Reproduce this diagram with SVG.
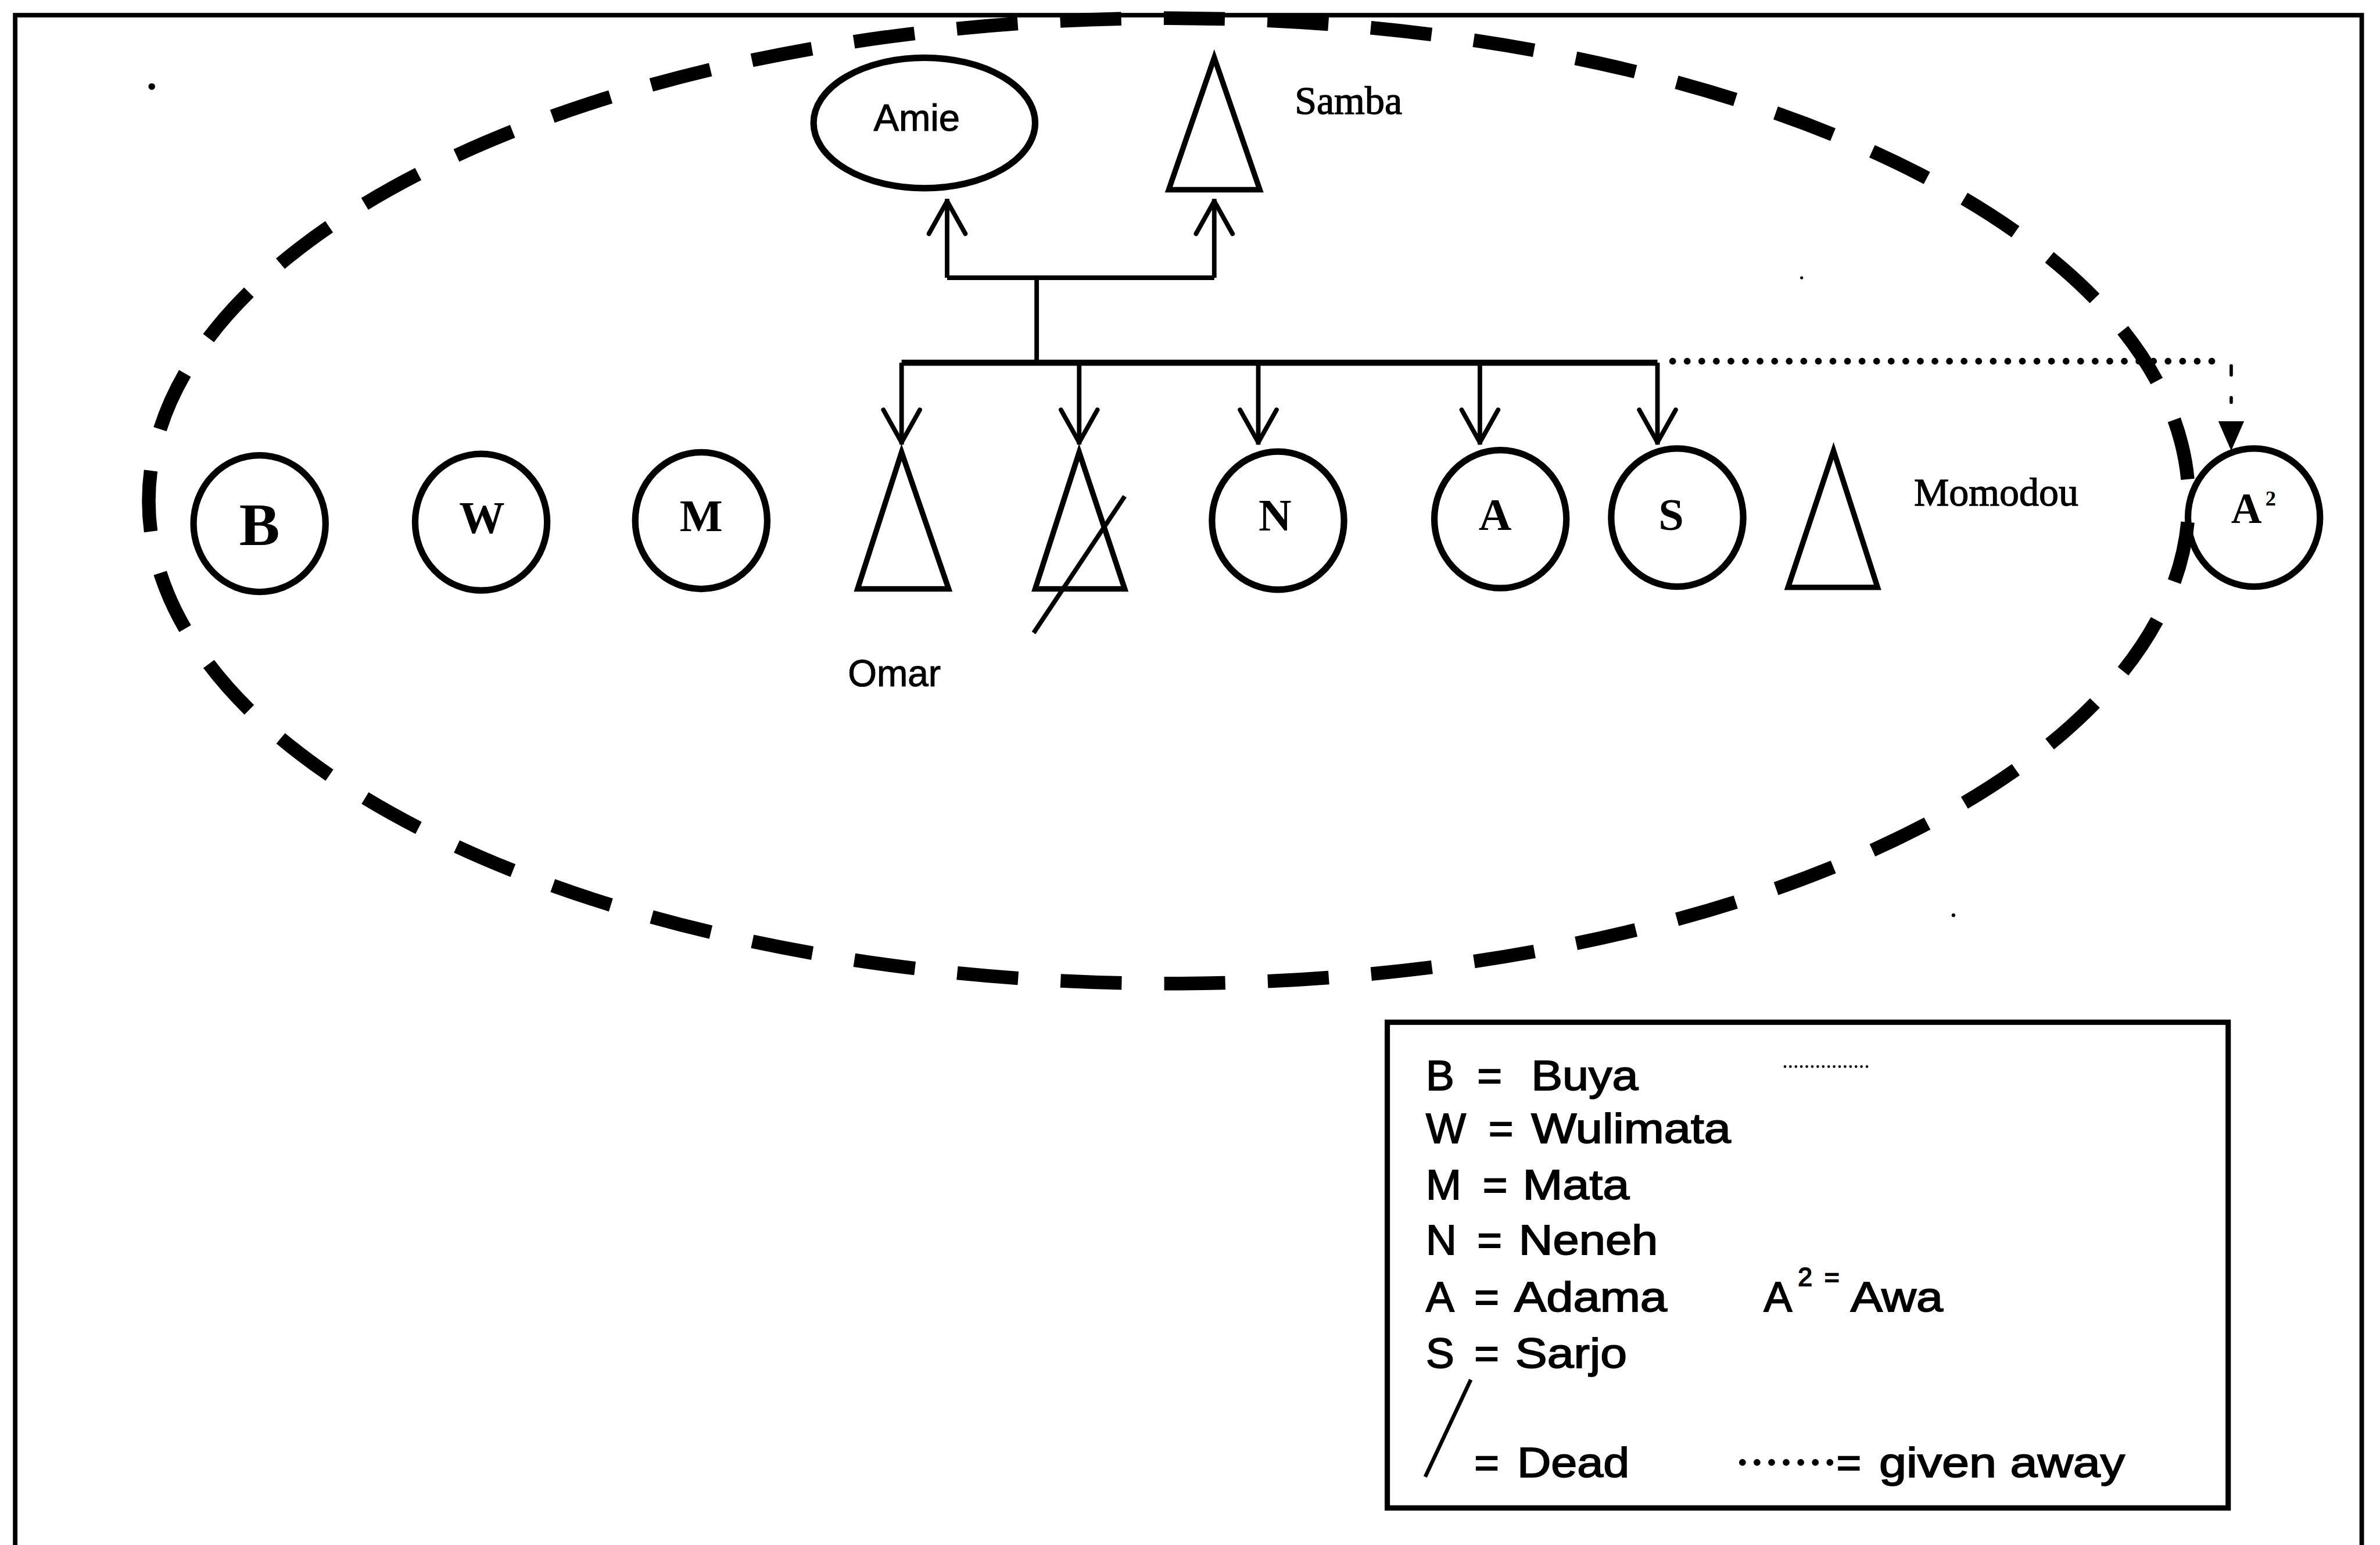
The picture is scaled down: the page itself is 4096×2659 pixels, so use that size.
<svg xmlns="http://www.w3.org/2000/svg" width="4096" height="2659" viewBox="0 0 4096 2659">
  <style>
    .frame{fill:none;stroke:#000;stroke-width:3}
    .circle{fill:none;stroke:#000;stroke-width:4.3}
    .tri{fill:none;stroke:#000;stroke-width:3.6;stroke-linejoin:miter}
    .line{fill:none;stroke:#000;stroke-width:3}
    .bold{font-family:"Liberation Serif","Times New Roman",serif;font-weight:bold;fill:#000;text-anchor:middle}
    .serif{font-family:"Liberation Serif","Times New Roman",serif;fill:#000;stroke:#000;stroke-width:0.5}
    .sans{font-family:"Liberation Sans",Arial,sans-serif;fill:#000;stroke:#000;stroke-width:0.4}
    .key{font-family:"Liberation Sans",Arial,sans-serif;font-size:28px;fill:#000;stroke:#000;stroke-width:0.7}
  </style>
  <defs>
    <marker id="open" markerUnits="userSpaceOnUse" viewBox="-26 -14 30 28" refX="0" refY="0" markerWidth="30" markerHeight="28" orient="auto">
      <path d="M-23,-12 L-1.5,0 L-23,12" fill="none" stroke="#000" stroke-width="3" stroke-linejoin="round" stroke-linecap="round"/>
    </marker>
  </defs>
  <rect width="4096" height="2659" fill="#fff"/>
  <g transform="scale(2.6122)">
    <!-- page border, open at the bottom -->
    <rect class="frame" x="10" y="10" width="1546" height="1040"/>
    <!-- stray specks -->
    <circle cx="100" cy="57" r="2.2" fill="#000"/>
    <circle cx="1187" cy="183" r="1" fill="#000"/>
    <circle cx="1287" cy="603" r="1.2" fill="#000"/>

    <!-- household boundary -->
    <ellipse id="household" cx="770" cy="330" rx="672" ry="318" fill="none" stroke="#000" stroke-width="9" pathLength="470" stroke-dasharray="5.9 4.1" stroke-dashoffset="-2.05"/>

    <g id="connectors">
      <!-- parents -->
      <path class="line" d="M624,183 H800"/>
      <path class="line" d="M624,183 V131" marker-end="url(#open)"/>
      <path class="line" d="M800,183 V131" marker-end="url(#open)"/>
      <path class="line" d="M683,183 V239"/>
      <!-- sibling bar -->
      <path d="M594,239 H1092" fill="none" stroke="#000" stroke-width="4"/>
      <path class="line" d="M594,239 V293" marker-end="url(#open)"/>
      <path class="line" d="M711,239 V293" marker-end="url(#open)"/>
      <path class="line" d="M829,239 V293" marker-end="url(#open)"/>
      <path class="line" d="M975,239 V293" marker-end="url(#open)"/>
      <path class="line" d="M1092,239 V293" marker-end="url(#open)"/>
      <!-- given away -->
      <path d="M1102,238 H1466" fill="none" stroke="#000" stroke-width="4.5" stroke-linecap="round" stroke-dasharray="0 9.6"/>
      <path d="M1470,241 V247 M1470,262 V265" fill="none" stroke="#000" stroke-width="2.2" stroke-linecap="round"/>
      <polygon points="1461.5,277.5 1478.5,277.5 1470,297" fill="#000"/>
    </g>

    <g id="amie">
      <ellipse class="circle" cx="609" cy="81" rx="73" ry="43"/>
      <text class="sans" x="604" y="86" font-size="25" text-anchor="middle">Amie</text>
    </g>
    <g id="samba">
      <polygon class="tri" points="800,38 830,125 770,125"/>
      <text class="serif" x="853" y="75" font-size="26">Samba</text>
    </g>

    <g id="buya">
      <ellipse class="circle" cx="171" cy="345" rx="43.5" ry="45"/>
      <text class="bold" x="171" y="359" font-size="40">B</text>
    </g>
    <g id="wulimata">
      <ellipse class="circle" cx="317" cy="344" rx="43.5" ry="45"/>
      <text class="bold" x="317.5" y="351" font-size="30">W</text>
    </g>
    <g id="mata">
      <ellipse class="circle" cx="462" cy="343" rx="43.5" ry="45"/>
      <text class="bold" x="462" y="350" font-size="30">M</text>
    </g>
    <g id="omar">
      <polygon class="tri" points="594,298 625,388 565,388"/>
      <text class="sans" x="558.6" y="452" font-size="24.5">Omar</text>
    </g>
    <g id="dead-son">
      <polygon class="tri" points="711,298 741,388 682,388"/>
      <path class="line" d="M741,327 L681,417"/>
    </g>
    <g id="neneh">
      <ellipse class="circle" cx="842" cy="343" rx="43.5" ry="45.5"/>
      <text class="bold" x="840" y="349.5" font-size="30">N</text>
    </g>
    <g id="adama">
      <ellipse class="circle" cx="988.5" cy="342" rx="43.5" ry="45.5"/>
      <text class="bold" x="985" y="349" font-size="30">A</text>
    </g>
    <g id="sarjo">
      <ellipse class="circle" cx="1105" cy="341" rx="43.5" ry="45.5"/>
      <text class="bold" x="1101" y="349" font-size="30">S</text>
    </g>
    <g id="momodou">
      <polygon class="tri" points="1208,297 1237,387 1178,387"/>
      <text class="serif" x="1261" y="333" font-size="26">Momodou</text>
    </g>
    <g id="awa">
      <ellipse class="circle" cx="1485" cy="341" rx="43.5" ry="45.5"/>
      <text class="bold" x="1480" y="344.6" font-size="28">A</text>
      <text class="bold" x="1496" y="333" font-size="14">2</text>
    </g>

    <g id="legend">
      <rect x="914" y="673.5" width="554" height="320" fill="none" stroke="#000" stroke-width="3.5"/>
      <text class="key" y="718"><tspan x="939.4">B</tspan><tspan x="973.2">=</tspan><tspan x="1008.8" textLength="70.5" lengthAdjust="spacingAndGlyphs">Buya</tspan></text>
      <path d="M1176,702.7 H1231" fill="none" stroke="#000" stroke-width="1.8" stroke-linecap="round" stroke-dasharray="0 3.6"/>
      <text class="key" y="753"><tspan x="939.4">W</tspan><tspan x="980.7">=</tspan><tspan x="1008.8" textLength="131.6" lengthAdjust="spacingAndGlyphs">Wulimata</tspan></text>
      <text class="key" y="790"><tspan x="939.4">M</tspan><tspan x="976.9">=</tspan><tspan x="1003.2" textLength="70.3" lengthAdjust="spacingAndGlyphs">Mata</tspan></text>
      <text class="key" y="826.5"><tspan x="939.4">N</tspan><tspan x="973.2">=</tspan><tspan x="1000.6" textLength="91.7" lengthAdjust="spacingAndGlyphs">Neneh</tspan></text>
      <text class="key" y="864"><tspan x="939.4">A</tspan><tspan x="971.3">=</tspan><tspan x="997.6" textLength="100.7" lengthAdjust="spacingAndGlyphs">Adama</tspan></text>
      <text class="key" y="864"><tspan x="1162">A</tspan><tspan x="1219.2" textLength="60.9" lengthAdjust="spacingAndGlyphs">Awa</tspan></text>
      <text class="key" y="847" style="font-size:17px"><tspan x="1184.5">2</tspan><tspan x="1202">=</tspan></text>
      <text class="key" y="901"><tspan x="939.4">S</tspan><tspan x="971.3">=</tspan><tspan x="998.3" textLength="73.6" lengthAdjust="spacingAndGlyphs">Sarjo</tspan></text>
      <path d="M969,909 L939,973" fill="none" stroke="#000" stroke-width="2.5"/>
      <text class="key" y="973"><tspan x="971.3">=</tspan><tspan x="999.5" textLength="74" lengthAdjust="spacingAndGlyphs">Dead</tspan></text>
      <path d="M1148,963.5 H1206" fill="none" stroke="#000" stroke-width="4.5" stroke-linecap="round" stroke-dasharray="0 9.6"/>
      <text class="key" y="973"><tspan x="1209.9">=</tspan><tspan x="1238" textLength="162" lengthAdjust="spacingAndGlyphs">given away</tspan></text>
    </g>
  </g>
</svg>
